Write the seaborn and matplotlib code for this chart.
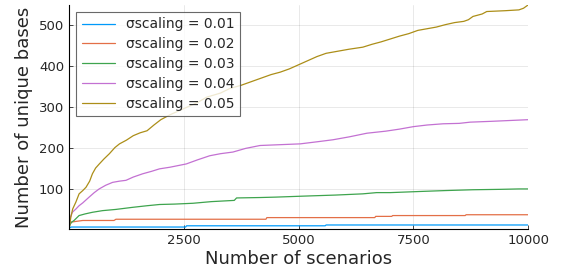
import pandas as pd
import matplotlib
matplotlib.use("Agg")
import matplotlib.pyplot as plt
import seaborn as sns

# breakpoints (scenario count, unique bases);
# repeated values keep the flat stretches flat
x_001 = [1, 10, 50, 2540, 2560, 5580, 5600, 10000]
y_001 = [1, 4, 6, 6, 9, 9, 11, 11]

x_002 = [1, 10, 40, 300, 980, 1022, 4290, 4310, 6660, 6680, 7030, 7050,
         8630, 8650, 10000]
y_002 = [1, 10, 18, 22, 22, 25, 25, 29, 29, 32, 32, 34, 34, 36, 36]

x_003 = [1, 20, 60, 110, 219, 350, 511, 730, 1022, 1380, 1700, 1971, 2300, 2700,
         3100, 3600, 3650, 4161, 4500, 5000, 5256, 5800, 6400, 6700, 7000, 7700,
         8200, 8800, 9400, 9800, 10000]
y_003 = [1, 12, 18, 22, 34, 38, 42, 46, 49, 54, 58, 61, 62, 64,
         68, 71, 77, 78, 79, 81, 82, 84, 87, 90, 90, 93,
         95, 97, 98, 99, 99]

x_004 = [1, 30, 73, 150, 219, 300, 438, 550, 657, 800, 949, 1100, 1241, 1400, 1606,
         1800, 1971, 2200, 2555, 2800, 3066, 3300, 3570, 3850, 4161, 4600, 5037,
         5400, 5750, 6100, 6490, 6900, 7200, 7500, 7800, 8150, 8500, 8740, 9200,
         9600, 10000]
y_004 = [1, 30, 42, 50, 58, 65, 79, 90, 99, 108, 115, 118, 120, 128, 136,
         142, 148, 152, 160, 170, 180, 185, 189, 198, 205, 207, 209,
         214, 219, 226, 235, 240, 245, 251, 255, 258, 259, 262, 264,
         266, 268]

x_005 = [1, 40, 80, 150, 220, 300, 370, 450, 510, 580, 660, 760, 880, 1000, 1100,
         1250, 1400, 1550, 1700, 1850, 2000, 2200, 2400, 2600, 2800, 3000, 3300,
         3500, 3750, 4000, 4200, 4400, 4600, 4800, 5000, 5200, 5400, 5600, 5800,
         6100, 6400, 6600, 6800, 7000, 7200, 7400, 7600, 7800, 8000, 8200, 8400,
         8600, 8700, 8800, 9000, 9100, 9500, 9800, 9900, 10000]
y_005 = [1, 30, 50, 67, 87, 95, 103, 118, 136, 150, 160, 172, 185, 200, 209,
         218, 229, 236, 241, 255, 268, 280, 290, 300, 310, 323, 333,
         344, 352, 362, 370, 378, 384, 392, 402, 412, 422, 430, 434,
         440, 445, 452, 458, 465, 472, 478, 486, 490, 494, 500, 505,
         508, 512, 520, 526, 532, 534, 536, 540, 548]

sigmas = ["0.01", "0.02", "0.03", "0.04", "0.05"]
xs = [x_001, x_002, x_003, x_004, x_005]
ys = [y_001, y_002, y_003, y_004, y_005]
colors = ["#009AFA", "#E36F47", "#3EA44E", "#C371D2", "#AC8E18"]

labels = ["σscaling = " + s for s in sigmas]
frames = []
for lab, x, y in zip(labels, xs, ys):
    frames.append(pd.DataFrame({"scenarios": x, "bases": y, "label": lab}))
df = pd.concat(frames, ignore_index=True)

sns.set_style("white")
fig = plt.figure(figsize=(5.66, 2.76), dpi=100)
ax = fig.add_axes([0.122, 0.170, 0.811, 0.812])

sns.lineplot(data=df, x="scenarios", y="bases", hue="label", hue_order=labels,
             palette=dict(zip(labels, colors)), estimator=None, sort=False,
             linewidth=0.9, ax=ax)

ax.set_xlim(1, 10000)
ax.set_ylim(1, 548)
ax.set_xticks([2500, 5000, 7500, 10000])
ax.set_yticks([100, 200, 300, 400, 500])
ax.grid(True, color="#000000", alpha=0.1, linewidth=0.6)
for side in ["top", "right"]:
    ax.spines[side].set_visible(False)
for side in ["left", "bottom"]:
    ax.spines[side].set_color("#000000")
    ax.spines[side].set_linewidth(0.8)
ax.tick_params(direction="in", length=3, width=0.6, labelsize=9.5,
               left=True, bottom=True)
ax.set_xlabel("Number of scenarios", fontsize=13, labelpad=2)
ax.set_ylabel("Number of unique bases", fontsize=13, labelpad=4)

leg = ax.legend(loc="upper left", fontsize=10, frameon=True, fancybox=False,
                edgecolor="#444444", borderpad=0.4, labelspacing=0.42,
                handlelength=2.4, borderaxespad=0.5)
leg.get_frame().set_linewidth(0.8)

fig.savefig("out.png", dpi=100)
